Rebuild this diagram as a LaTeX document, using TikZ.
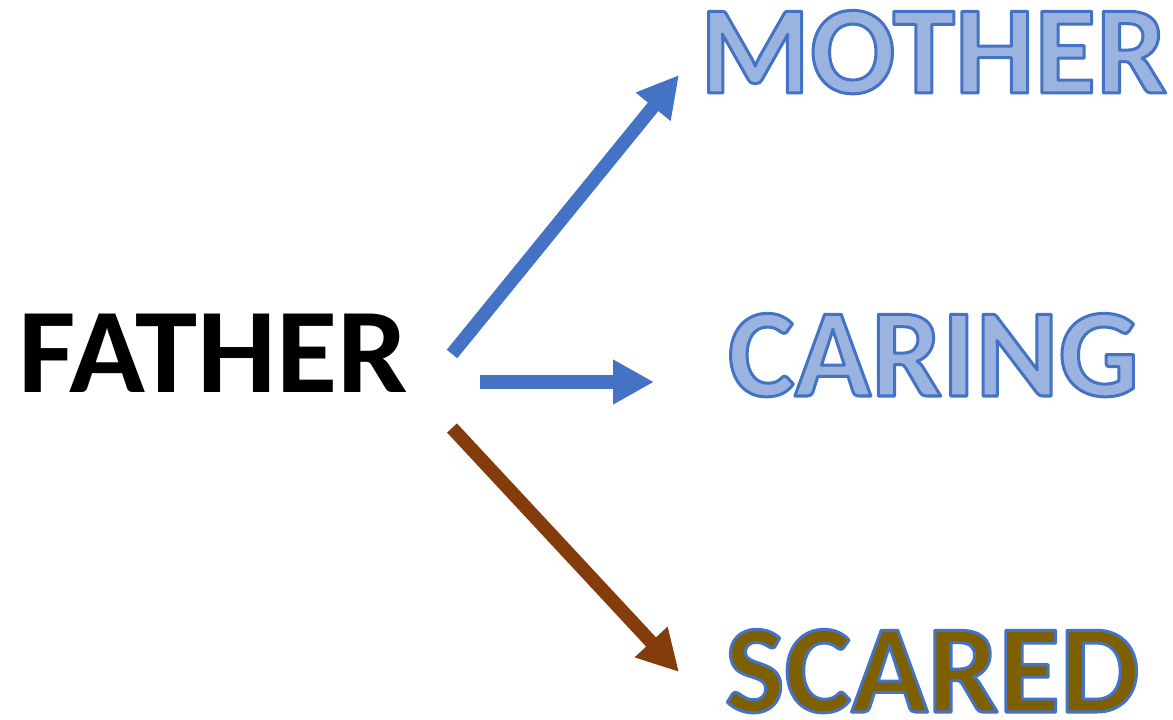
\documentclass[tikz,border=0pt]{standalone}
\usepackage{fontspec}
\setmainfont{Carlito}
\usetikzlibrary{arrows.meta}

\definecolor{arrowblue}{HTML}{4472C4}
\definecolor{arrowbrown}{HTML}{843C0C}
\definecolor{dotfill}{HTML}{9BB3DF}
\definecolor{olivefill}{HTML}{7F6000}

% filled glyphs with a blue stroked outline (text render mode 2)
\newcommand\outlinedword[2]{{\color{#1}\special{pdf:literal direct 0.267 0.447 0.769 RG 2 Tr 3 w 1 j}#2\special{pdf:literal direct 0 Tr}}}

\tikzset{
  word/.style={inner sep=0pt, outer sep=0pt, anchor=base west,
    font=\bfseries\fontsize{121}{130}\selectfont},
  bigword/.style={word, font=\bfseries\fontsize{126}{136}\selectfont},
  fatarrow/.style={line width=13.5pt, line cap=butt,
    -{Triangle[length=41pt, width=42pt]}},
}

\begin{document}
\begin{tikzpicture}[x=1pt, y=1pt]
  \useasboundingbox (0,0) rectangle (1173,720);

  % words
  \node[word] (father) at (19,327) {\scalebox{1.035}[1]{FATHER}};
  \node[bigword] (mother) at (700,627) {\outlinedword{dotfill}{MOTHER}};
  \node[bigword] (caring) at (728,324) {\outlinedword{dotfill}{CARING}};
  \node[bigword] (scared) at (725,8) {\outlinedword{olivefill}{SCARED}};

  % arrow end points
  \coordinate (up0) at (452,366);
  \coordinate (up1) at (679,645);
  \coordinate (mid0) at (480,338);
  \coordinate (mid1) at (654,338);
  \coordinate (dn0) at (452,292);
  \coordinate (dn1) at (679,48);

  \draw[fatarrow, draw=arrowblue, fill=arrowblue] (up0) -- (up1);
  \draw[fatarrow, draw=arrowblue, fill=arrowblue] (mid0) -- (mid1);
  \draw[fatarrow, draw=arrowbrown, fill=arrowbrown] (dn0) -- (dn1);
\end{tikzpicture}
\end{document}
